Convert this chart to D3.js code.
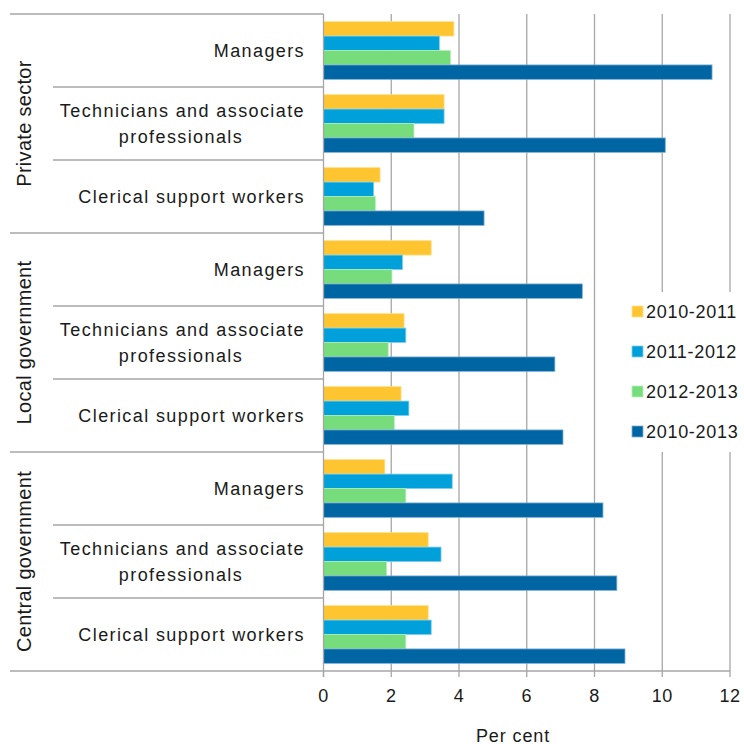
<!DOCTYPE html>
<html>
<head>
<meta charset="utf-8">
<script src="https://cdn.jsdelivr.net/npm/d3@7"></script>
<style>
  html, body { margin: 0; padding: 0; background: #fff; }
  svg text { font-family: "Liberation Sans", Arial, sans-serif; fill: #1a1a1a; }
</style>
</head>
<body>
<svg id="chart" width="744" height="744"></svg>
<script>
const groups = ["Private sector", "Local government", "Central government"];
const occupations = ["Managers", "Technicians and associate professionals", "Clerical support workers"];
const seriesNames = ["2010-2011", "2011-2012", "2012-2013", "2010-2013"];
const v2010_2011 = [3.85, 3.56, 1.67, 3.18, 2.38, 2.29, 1.81, 3.09, 3.09];
const v2011_2012 = [3.42, 3.56, 1.48, 2.33, 2.43, 2.52, 3.80, 3.47, 3.18];
const v2012_2013 = [3.75, 2.67, 1.53, 2.02, 1.91, 2.09, 2.43, 1.86, 2.43];
const v2010_2013 = [11.47, 10.09, 4.74, 7.64, 6.83, 7.07, 8.25, 8.66, 8.90];
const xTicks = [0, 2, 4, 6, 8, 10, 12];
const xTitle = "Per cent";

const seriesValues = [v2010_2011, v2011_2012, v2012_2013, v2010_2013];
const colors = ["#FFC530", "#00A0DA", "#77DC7C", "#0065A3"];
const strokes = ["#FFE08A", "#7FCDEB", "#B5EDB8", "#7FB0D2"];

const rows = [];
groups.forEach((g, gi) => occupations.forEach((o, oi) => rows.push({ key: gi + "|" + oi, group: g, occ: o, idx: gi * occupations.length + oi })));

const svg = d3.select("#chart");
const pLeft = 323.5, pRight = 730, pTop = 14, pBottom = 671;
const labFont = "18px", labSpacing = "1.4px";

const x = d3.scaleLinear().domain([0, 12]).range([pLeft, pRight]);
const y = d3.scaleBand().domain(rows.map(r => r.key)).range([pTop, pBottom]).padding(0);
const ySub = d3.scaleBand().domain(seriesNames).range([0, y.bandwidth()]).paddingInner(0).paddingOuter(0.53);

// gridlines
svg.append("g").selectAll("line").data(xTicks.filter(t => t > 0)).join("line")
  .attr("x1", d => x(d)).attr("x2", d => x(d)).attr("y1", pTop).attr("y2", pBottom)
  .attr("stroke", "#a6a6a6").attr("stroke-width", 1.3);

// bars
const barG = svg.append("g");
seriesNames.forEach((s, si) => {
  barG.append("g").selectAll("rect").data(rows).join("rect")
    .attr("x", x(0))
    .attr("y", r => y(r.key) + ySub(s))
    .attr("width", r => x(seriesValues[si][r.idx]) - x(0))
    .attr("height", ySub.bandwidth())
    .attr("fill", colors[si])
    .attr("stroke", strokes[si]).attr("stroke-width", 0.8);
});

// axes lines
svg.append("line").attr("x1", x(0)).attr("x2", x(0)).attr("y1", pTop).attr("y2", pBottom + 6)
  .attr("stroke", "#a6a6a6").attr("stroke-width", 1.3);
svg.append("line").attr("x1", 10).attr("x2", pRight).attr("y1", pBottom).attr("y2", pBottom)
  .attr("stroke", "#a6a6a6").attr("stroke-width", 1.3);

// x axis ticks & labels
const xa = svg.append("g");
xa.selectAll("line").data(xTicks).join("line")
  .attr("x1", d => x(d)).attr("x2", d => x(d)).attr("y1", pBottom).attr("y2", pBottom + 6)
  .attr("stroke", "#a6a6a6").attr("stroke-width", 1.3);
xa.selectAll("text").data(xTicks).join("text")
  .attr("x", d => x(d)).attr("y", 701.5).attr("text-anchor", "middle")
  .style("font-size", "18px").style("letter-spacing", "0.6px")
  .text(d => d);
svg.append("text").attr("x", 513).attr("y", 741.5).attr("text-anchor", "middle")
  .style("font-size", "18px").style("letter-spacing", "0.9px").text(xTitle);

// separators
rows.forEach((r, i) => {
  const isGroupStart = i % occupations.length === 0;
  svg.append("line").attr("x1", isGroupStart ? 10 : 53).attr("x2", x(0))
    .attr("y1", y(r.key)).attr("y2", y(r.key))
    .attr("stroke", "#a6a6a6").attr("stroke-width", 1.3);
});

// category labels
const labG = svg.append("g");
rows.forEach(r => {
  const cy = y(r.key) + y.bandwidth() / 2;
  const t = labG.append("text").attr("x", 305).attr("text-anchor", "end")
    .style("font-size", labFont).style("letter-spacing", labSpacing);
  const words = r.occ.split(" ");
  const lines = [];
  let cur = [];
  const probe = svg.append("text").style("font-size", labFont).style("letter-spacing", labSpacing);
  words.forEach(w => {
    const test = cur.concat([w]).join(" ");
    probe.text(test);
    if (probe.node().getComputedTextLength() > 262 && cur.length) { lines.push(cur.join(" ")); cur = [w]; }
    else cur.push(w);
  });
  lines.push(cur.join(" "));
  probe.remove();
  const lh = 26;
  lines.forEach((ln, li) => {
    const isLast = li === lines.length - 1 && lines.length > 1;
    t.append("tspan").attr("x", isLast ? (305 + 57) / 2 : 305)
      .attr("text-anchor", isLast ? "middle" : "end")
      .attr("y", cy + (li - (lines.length - 1) / 2) * lh + 6.5)
      .text(ln);
  });
});

// group labels
groups.forEach((g, gi) => {
  const y0 = y(gi + "|0"), y1 = y(gi + "|" + (occupations.length - 1)) + y.bandwidth();
  const cy = (y0 + y1) / 2;
  svg.append("text").attr("transform", `translate(30.5,${cy}) rotate(-90)`)
    .attr("text-anchor", "middle")
    .style("font-size", "20px").style("letter-spacing", "0.3px")
    .text(g);
});

// legend
const lg = svg.append("g");
lg.append("rect").attr("x", 626).attr("y", 292).attr("width", 118).attr("height", 160).attr("fill", "#fff");
seriesNames.forEach((s, si) => {
  const ly = 311.5 + si * 40;
  lg.append("rect").attr("x", 632).attr("y", ly - 5.5).attr("width", 11).attr("height", 11)
    .attr("fill", colors[si]).attr("stroke", strokes[si]).attr("stroke-width", 0.8);
  lg.append("text").attr("x", 646).attr("y", ly + 6.5)
    .style("font-size", "18px").style("letter-spacing", "0.7px").text(s);
});
</script>
</body>
</html>
